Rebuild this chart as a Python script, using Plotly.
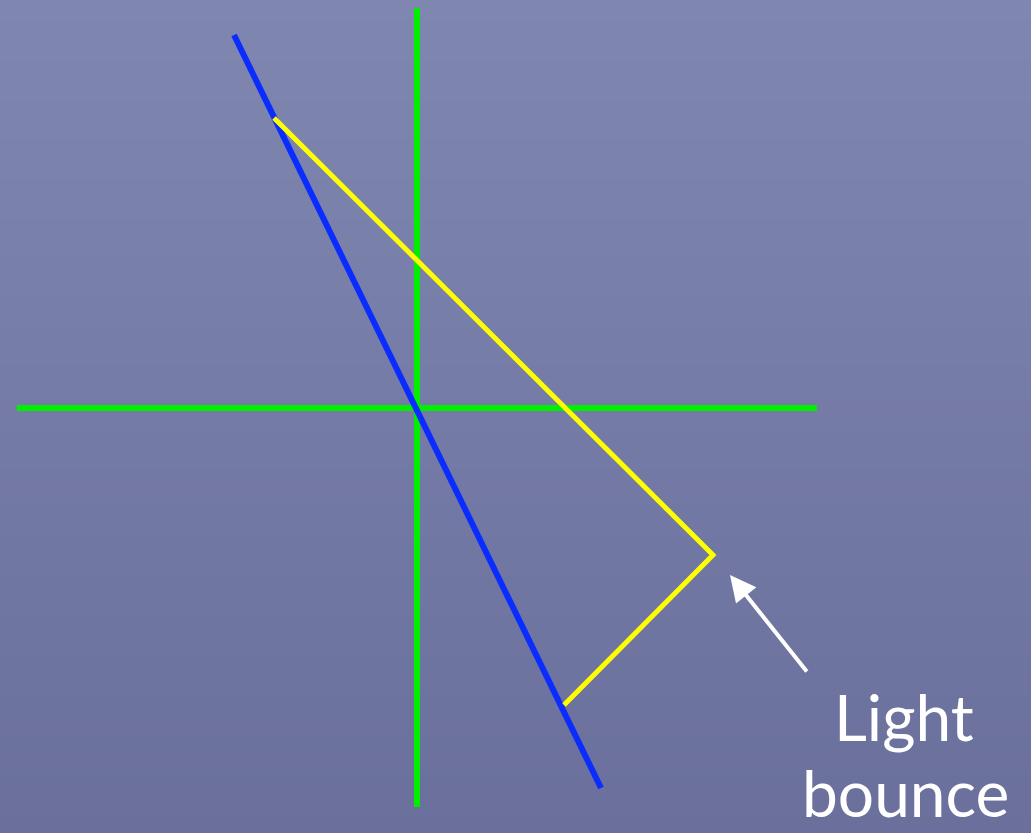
import plotly.graph_objects as go

# coordinates relative to the origin at the crossing of the green axes
axis_h_x = [-400, 400]
axis_h_y = [0, 0]
axis_v_x = [0, 0]
axis_v_y = [400, -399]

mirror_x = [-183, 184]
mirror_y = [373, -380]

ray_x = [-143, 296, 147]
ray_y = [290, -147, -297]

arrow_tail = (391, -265)
arrow_tip = (313, -167)

label_lines = ["Light", "bounce"]

x_range = [-417, 614]
y_range = [-425, 408]

bg_top = "#7f87b0"
bg_bottom = "#6a6f9c"

fig = go.Figure()
# background gradient
fig.add_trace(go.Heatmap(x=x_range, y=y_range, z=[[0, 0], [1, 1]],
                         colorscale=[[0, bg_bottom], [1, bg_top]], zsmooth="best",
                         showscale=False, hoverinfo="skip"))
fig.add_trace(go.Scatter(x=axis_h_x, y=axis_h_y, mode="lines",
                         line=dict(color="#00ee00", width=6), hoverinfo="skip"))
fig.add_trace(go.Scatter(x=axis_v_x, y=axis_v_y, mode="lines",
                         line=dict(color="#00ee00", width=6), hoverinfo="skip"))
fig.add_trace(go.Scatter(x=mirror_x, y=mirror_y, mode="lines",
                         line=dict(color="#0a2cff", width=6), hoverinfo="skip"))
fig.add_trace(go.Scatter(x=ray_x, y=ray_y, mode="lines",
                         line=dict(color="#ffff00", width=5), hoverinfo="skip"))

fig.add_annotation(x=arrow_tip[0], y=arrow_tip[1], ax=arrow_tail[0], ay=arrow_tail[1],
                   xref="x", yref="y", axref="x", ayref="y", text="",
                   showarrow=True, arrowhead=2, arrowsize=1.3, arrowwidth=4,
                   arrowcolor="white")
fig.add_annotation(x=487, y=-308, xref="x", yref="y", text=label_lines[0],
                   showarrow=False, font=dict(family="Comic Sans MS, Lato", size=64, color="white"))
fig.add_annotation(x=488, y=-384, xref="x", yref="y", text=label_lines[1],
                   showarrow=False, font=dict(family="Comic Sans MS, Lato", size=64, color="white"))

fig.update_layout(
    width=1031, height=833,
    margin=dict(l=0, r=0, t=0, b=0),
    paper_bgcolor=bg_bottom, plot_bgcolor=bg_bottom,
    showlegend=False,
    xaxis=dict(range=x_range, visible=False, fixedrange=True),
    yaxis=dict(range=y_range, visible=False, fixedrange=True),
)
fig.write_html("out.html", config={"displayModeBar": False},
               post_script="document.body.style.margin='0';")
